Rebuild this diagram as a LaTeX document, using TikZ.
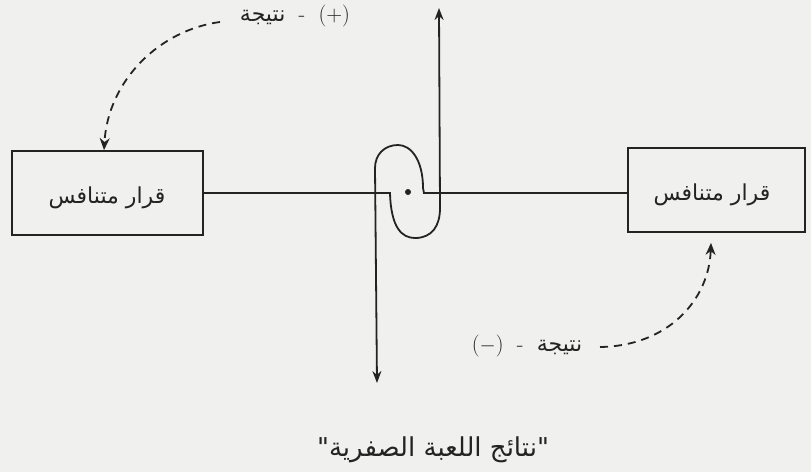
\documentclass[tikz,border=0pt]{standalone}
\usepackage{fontspec}
\newfontfamily\arabicfont[Script=Arabic]{DejaVu Sans}
\TeXXeTstate=1
\usetikzlibrary{arrows.meta}
\definecolor{paper}{RGB}{240,240,238}
\definecolor{ink}{RGB}{35,35,35}
\tikzset{
  boxnode/.style={draw=ink, line width=1.8pt, minimum width=#1, minimum height=84pt, inner sep=0pt},
  boxtext/.style={inner sep=0pt, text=ink, font=\arabicfont\fontsize{22}{26}\selectfont},
  wire/.style={draw=ink, line width=1.8pt},
  arrowtip/.style={-{Stealth[length=12pt,width=9pt]}},
  dashline/.style={draw=ink, line width=1.8pt, dash pattern=on 8pt off 6pt, -{Stealth[length=12pt,width=10pt]}},
  lbl/.style={inner sep=0pt, text=ink, font=\fontsize{22}{26}\selectfont}
}
\begin{document}
\begin{tikzpicture}[x=1pt,y=-1pt]
\fill[paper] (0,0) rectangle (811,472);
\useasboundingbox (0,0) rectangle (811,472);

\node[boxnode=191pt] (L) at (107.5,193) {};
\node[boxnode=177pt] (R) at (716.5,190) {};
\node[boxtext] (Lt) at (107,198) {\beginR قرار متنافس\endR};
\node[boxtext] (Rt) at (712,195) {\beginR قرار متنافس\endR};

\coordinate (c1) at (390,193);
\coordinate (c2) at (424,193);
\coordinate (up) at (439,8);
\coordinate (dn) at (377,383);

% left decision -> lower loop -> up arrow (+)
\draw[wire, arrowtip] (L.east |- c1) -- (c1)
  .. controls (391,228) and (402,238) .. (415,238)
  .. controls (432,238) and (440,226) .. (440,208) -- (up);
% right decision -> upper loop -> down arrow (-)
\draw[wire, arrowtip] (R.west |- c2) -- (c2) -- (423,188)
  .. controls (423,160) and (411,145) .. (398,145)
  .. controls (384,145) and (375,155) .. (375,168) -- (dn);

\fill[ink] (408,192) circle (3pt);

% labels
\node[lbl] (tl) at (295,16) {{\arabicfont\beginR نتيجة\endR}\ \ -\ \ (+)};
\node[lbl] (bl) at (527,346) {($-$)\ \ -\ \ {\arabicfont\beginR نتيجة\endR}};
\node[inner sep=0pt, text=ink, font=\arabicfont\fontsize{26}{30}\selectfont] (cap) at (433,450) {\beginR"نتائج اللعبة الصفرية"\endR};

\coordinate (s1) at (220,22);
\coordinate (s2) at (600,347);
\draw[dashline] (s1) .. controls (160,30) and (108,80) .. (L.north -| 104,0);
\draw[dashline] (s2) .. controls (668,346) and (709,300) .. ([yshift=-10pt]R.south -| 711,0);
\end{tikzpicture}
\end{document}
